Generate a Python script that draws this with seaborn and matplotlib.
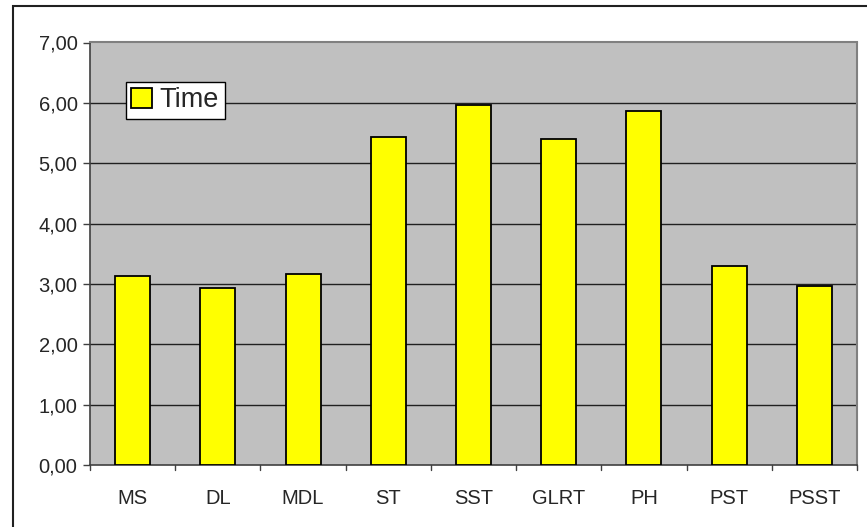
import matplotlib
matplotlib.use("Agg")
import matplotlib.pyplot as plt
from matplotlib.patches import Rectangle, Patch
import seaborn as sns
import pandas as pd

categories = ["MS", "DL", "MDL", "ST", "SST", "GLRT", "PH", "PST", "PSST"]
time_values = [3.13, 2.94, 3.17, 5.44, 5.97, 5.40, 5.86, 3.30, 2.97]
y_ticks = [0, 1, 2, 3, 4, 5, 6, 7]
y_tick_labels = ["0,00", "1,00", "2,00", "3,00", "4,00", "5,00", "6,00", "7,00"]

df = pd.DataFrame({"method": categories, "Time": time_values})

sns.set_theme(style="white")
plt.rcParams["font.family"] = ["Liberation Sans", "DejaVu Sans"]

W, H = 867, 527
fig = plt.figure(figsize=(W / 100, H / 100), dpi=100)
fig.patch.set_facecolor("white")

# chart-area frame (runs off the right and bottom edges)
fig.patches.append(Rectangle((13 / W, -0.05), 1.2, 1 - 6 / H + 0.05,
                             transform=fig.transFigure, fill=False,
                             edgecolor="#202020", linewidth=1.5, zorder=0))

ax = fig.add_axes([90 / W, 1 - 465 / H, (857 - 90) / W, (465 - 42.5) / H])
ax.set_facecolor("#c0c0c0")

sns.barplot(data=df, x="method", y="Time", ax=ax, color="#ffff00",
            width=0.41, edgecolor="black", linewidth=1.3, saturation=1,
            zorder=3)

ax.set_ylim(0, 7)
ax.set_xlim(-0.5, len(categories) - 0.5)
ax.set_yticks(y_ticks)
ax.set_yticklabels(y_tick_labels, fontsize=14.5)
ax.tick_params(axis="x", labelsize=14.5, length=0, pad=17)
ax.tick_params(axis="y", length=5, width=1, color="#404040", direction="out",
               left=True, pad=4)
ax.set_xlabel("")
ax.set_ylabel("")

for y in y_ticks[1:-1]:
    ax.axhline(y, color="#202020", linewidth=1, zorder=1)

# x tick marks between categories
for i in range(len(categories) + 1):
    ax.plot([i - 0.5, i - 0.5], [0, -0.08], color="#404040", linewidth=1,
            clip_on=False, zorder=4)

for side in ["top", "right"]:
    ax.spines[side].set_visible(True)
    ax.spines[side].set_color("#808080")
    ax.spines[side].set_linewidth(1.5)
ax.spines["left"].set_color("#404040")
ax.spines["bottom"].set_color("#404040")
ax.spines["left"].set_linewidth(1.2)
ax.spines["bottom"].set_linewidth(1.2)

handle = Patch(facecolor="#ffff00", edgecolor="black", linewidth=1.3)
leg = ax.legend([handle], ["Time"], loc="upper left",
                bbox_to_anchor=((126 - 90) / (857 - 90), (465 - 82) / (465 - 42.5)),
                fontsize=19.5, frameon=True, fancybox=False, framealpha=1,
                edgecolor="black", handlelength=0.75, handleheight=0.75,
                handletextpad=0.3, borderpad=0.2, borderaxespad=0)
leg.get_frame().set_linewidth(1)

fig.savefig("out.png", dpi=100, facecolor="white")
